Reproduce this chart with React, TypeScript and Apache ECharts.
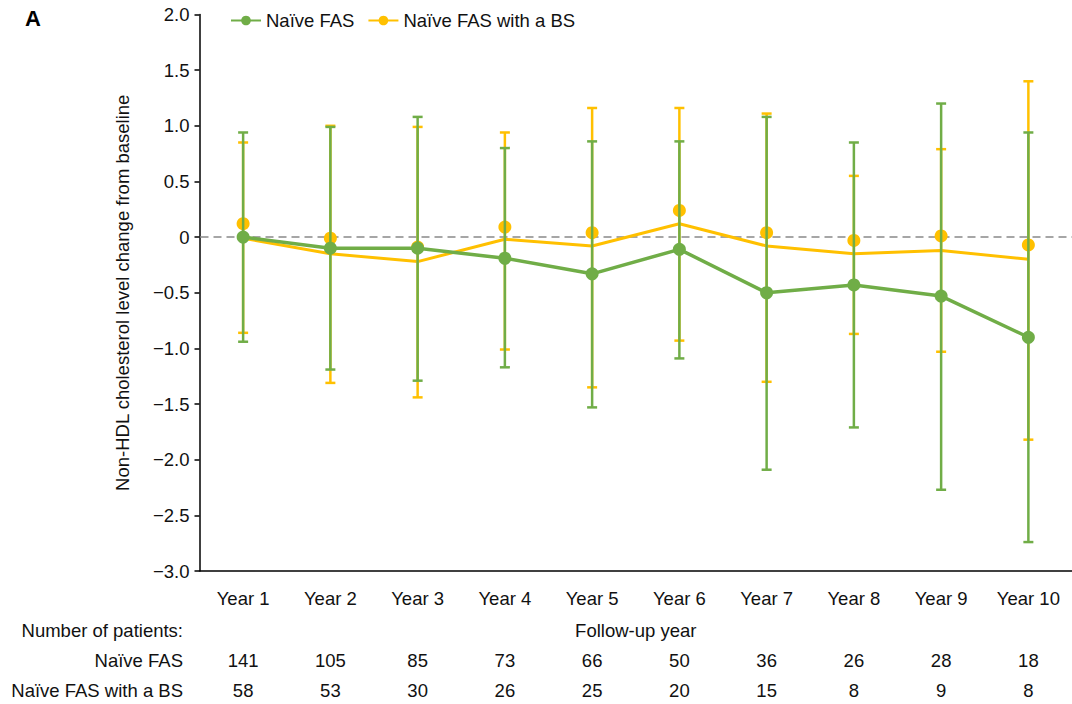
import React, { useEffect, useRef } from 'react';
import * as echarts from 'echarts';

// Follow-up years
const years = ['Year 1', 'Year 2', 'Year 3', 'Year 4', 'Year 5', 'Year 6', 'Year 7', 'Year 8', 'Year 9', 'Year 10'];

// Naïve FAS: mean change and SD range
const fasMean = [0.0, -0.1, -0.1, -0.19, -0.33, -0.11, -0.5, -0.43, -0.53, -0.9];
const fasLow = [-0.94, -1.19, -1.29, -1.17, -1.53, -1.09, -2.09, -1.71, -2.27, -2.74];
const fasHigh = [0.94, 0.99, 1.08, 0.8, 0.86, 0.86, 1.08, 0.85, 1.2, 0.94];

// Naïve FAS with a BS: mean change, SD range and plotted point markers
const bsMean = [-0.01, -0.15, -0.22, -0.02, -0.08, 0.12, -0.08, -0.15, -0.12, -0.2];
const bsLow = [-0.86, -1.31, -1.44, -1.01, -1.35, -0.93, -1.3, -0.87, -1.03, -1.82];
const bsHigh = [0.85, 1.0, 0.99, 0.94, 1.16, 1.16, 1.11, 0.55, 0.79, 1.4];
const bsPoint = [0.12, -0.01, -0.09, 0.09, 0.04, 0.24, 0.04, -0.03, 0.01, -0.07];

// Number of patients per year
const fasCount = [141, 105, 85, 73, 66, 50, 36, 26, 28, 18];
const bsCount = [58, 53, 30, 26, 25, 20, 15, 8, 9, 8];

// Reference level for "no change"
const baseline = [0];

const GREEN = '#70AD47';
const YELLOW = '#FFC000';
const FONT = '"Liberation Sans", Arial, Helvetica, sans-serif';
const TEXT = '#111';
const FS = 18.5;

function errorBars(low: number[], high: number[], color: string, z: number) {
  return {
    type: 'custom',
    z,
    silent: true,
    data: years.map((_, i) => [i, low[i], high[i]]),
    encode: { x: 0, y: [1, 2] },
    renderItem: (_params: any, api: any) => {
      const idx = api.value(0);
      const lo = api.coord([idx, api.value(1)]);
      const hi = api.coord([idx, api.value(2)]);
      const x = lo[0];
      const half = 5;
      const style = { stroke: color, lineWidth: 2.5 };
      return {
        type: 'group',
        children: [
          { type: 'line', shape: { x1: x, y1: hi[1], x2: x, y2: lo[1] }, style },
          { type: 'line', shape: { x1: x - half, y1: hi[1], x2: x + half, y2: hi[1] }, style },
          { type: 'line', shape: { x1: x - half, y1: lo[1], x2: x + half, y2: lo[1] }, style },
        ],
      };
    },
  };
}

export default function App() {
  const ref = useRef<HTMLDivElement>(null);

  useEffect(() => {
    document.body.style.margin = '0';
    if (!ref.current) return;
    const chart = echarts.init(ref.current, undefined, { renderer: 'svg' });

    const countAxis = (counts: number[], margin: number) => ({
      type: 'category',
      data: years,
      position: 'bottom',
      gridIndex: 0,
      axisLine: { show: false, onZero: false },
      axisTick: { show: false },
      splitLine: { show: false },
      axisLabel: {
        margin,
        fontSize: FS,
        fontFamily: FONT,
        color: TEXT,
        formatter: (_v: string, i: number) => String(counts[i]),
      },
    });

    chart.setOption({
      animation: false,
      backgroundColor: '#fff',
      textStyle: { fontFamily: FONT },
      grid: { left: 199.5, top: 14.5, width: 874, height: 556.5 },
      legend: {
        data: ['Naïve FAS', 'Naïve FAS with a BS'],
        left: 225,
        top: 6,
        itemWidth: 30,
        itemHeight: 12,
        itemGap: 13,
        textStyle: { fontSize: FS, fontFamily: FONT, color: TEXT },
        lineStyle: { width: 2 },
      },
      xAxis: [
        {
          type: 'category',
          data: years,
          position: 'bottom',
          axisLine: { onZero: false, lineStyle: { color: '#000', width: 1.5 } },
          axisTick: { alignWithLabel: true, length: 5, lineStyle: { color: '#000', width: 1.5 } },
          axisLabel: { margin: 18, fontSize: FS, fontFamily: FONT, color: TEXT },
          splitLine: { show: false },
          name: 'Follow-up year',
          nameLocation: 'middle',
          nameGap: 50,
          nameTextStyle: { fontSize: FS, fontFamily: FONT, color: TEXT },
        },
        countAxis(fasCount, 80),
        countAxis(bsCount, 110),
      ],
      yAxis: {
        type: 'value',
        min: -3,
        max: 2,
        interval: 0.5,
        axisLine: { show: true, onZero: false, lineStyle: { color: '#000', width: 1.5 } },
        axisTick: { show: true, length: 5, lineStyle: { color: '#000', width: 1.5 } },
        splitLine: { show: false },
        axisLabel: {
          margin: 10,
          fontSize: FS,
          fontFamily: FONT,
          color: TEXT,
          formatter: (v: number) => (v === 0 ? '0' : v.toFixed(1).replace('-', '\u2212')),
        },
        name: 'Non-HDL cholesterol level change from baseline',
        nameLocation: 'middle',
        nameGap: 68,
        nameTextStyle: { fontSize: FS, fontFamily: FONT, color: TEXT },
      },
      series: [
        {
          // dashed zero line across the plotting area
          type: 'custom',
          z: 1,
          silent: true,
          data: baseline.map((v) => [0, v]),
          encode: { x: 0, y: 1 },
          renderItem: (params: any, api: any) => {
            const cs = params.coordSys;
            const y = api.coord([0, api.value(1)])[1];
            return {
              type: 'line',
              shape: { x1: cs.x + 1, y1: y, x2: cs.x + cs.width, y2: y },
              style: { stroke: '#A6A6A6', lineWidth: 2, lineDash: [8, 5] },
            };
          },
        },
        errorBars(bsLow, bsHigh, YELLOW, 2),
        {
          name: 'Naïve FAS with a BS',
          type: 'line',
          data: bsMean,
          z: 3,
          symbol: 'circle',
          showSymbol: false,
          symbolSize: 8,
          itemStyle: { color: YELLOW },
          lineStyle: { color: YELLOW, width: 3 },
        },
        {
          type: 'scatter',
          data: bsPoint,
          z: 4,
          symbol: 'circle',
          symbolSize: 13,
          itemStyle: { color: YELLOW, opacity: 1 },
        },
        errorBars(fasLow, fasHigh, GREEN, 5),
        {
          name: 'Naïve FAS',
          type: 'line',
          data: fasMean,
          z: 6,
          symbol: 'circle',
          symbolSize: 13,
          itemStyle: { color: GREEN },
          lineStyle: { color: GREEN, width: 3.5 },
        },
      ],
      graphic: [
        {
          type: 'text',
          left: 25,
          top: 7,
          style: { text: 'A', fontSize: 22, fontWeight: 'bold', fontFamily: FONT, fill: '#000' },
        },
        {
          type: 'text',
          x: 183,
          y: 630,
          style: { text: 'Number of patients:', fontSize: FS, fontFamily: FONT, fill: TEXT, align: 'right', verticalAlign: 'middle' },
        },
        {
          type: 'text',
          x: 183,
          y: 660,
          style: { text: 'Naïve FAS', fontSize: FS, fontFamily: FONT, fill: TEXT, align: 'right', verticalAlign: 'middle' },
        },
        {
          type: 'text',
          x: 183,
          y: 690,
          style: { text: 'Naïve FAS with a BS', fontSize: FS, fontFamily: FONT, fill: TEXT, align: 'right', verticalAlign: 'middle' },
        },
      ],
    });

    return () => chart.dispose();
  }, []);

  return <div ref={ref} style={{ width: 1072, height: 704 }} />;
}
